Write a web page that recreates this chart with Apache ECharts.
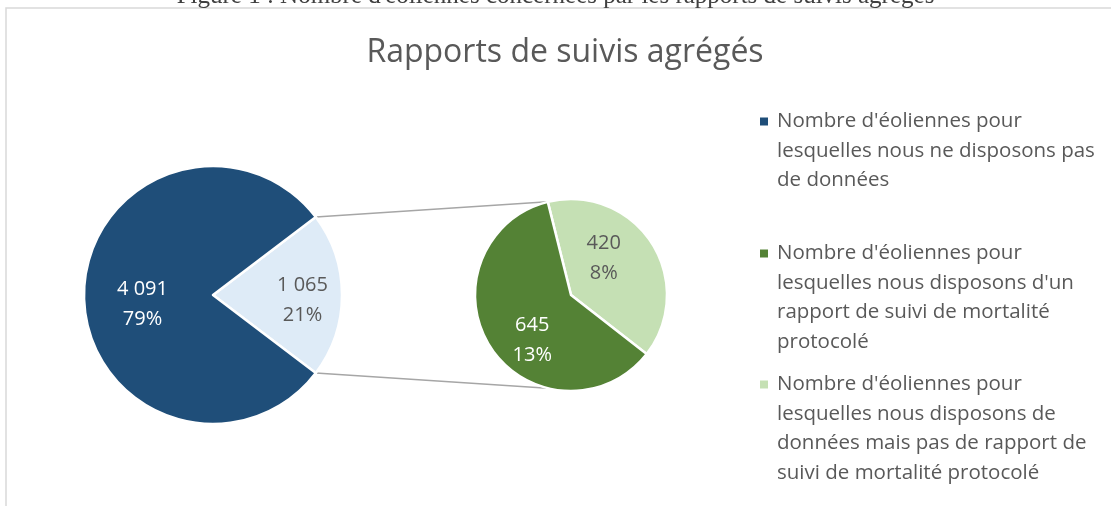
<!DOCTYPE html>
<html>
<head>
<meta charset="utf-8">
<script src="https://cdn.jsdelivr.net/npm/echarts@6/dist/echarts.min.js"></script>
<style>
html, body { margin: 0; padding: 0; background: #fff; }
#main { width: 1111px; height: 506px; }
</style>
</head>
<body>
<div id="main"></div>
<script>
// categories and values
var names = [
    "Nombre d'éoliennes pour lesquelles nous ne disposons pas de données",
    "Nombre d'éoliennes pour lesquelles nous disposons d'un rapport de suivi de mortalité protocolé",
    "Nombre d'éoliennes pour lesquelles nous disposons de données mais pas de rapport de suivi de mortalité protocolé"
];
var legendLines = [
    ["Nombre d'éoliennes pour", "lesquelles nous ne disposons pas", "de données"],
    ["Nombre d'éoliennes pour", "lesquelles nous disposons d'un", "rapport de suivi de mortalité", "protocolé"],
    ["Nombre d'éoliennes pour", "lesquelles nous disposons de", "données mais pas de rapport de", "suivi de mortalité protocolé"]
];
var noData = 4091;
var withReport = 645;
var withoutReport = 420;

var colors = ['#1f4e79', '#548235', '#c5e0b4'];
var groupColor = '#deebf7';
var font = 'Open Sans';

var total = noData + withReport + withoutReport;
var group = withReport + withoutReport;

function fmt(n) {
    return String(n).replace(/\B(?=(\d{3})+(?!\d))/g, ' ');
}
function labelText(p) {
    return fmt(p.value) + '\n' + Math.round(p.value / total * 100) + '%';
}

// pie geometry
var c1 = [213, 295], r1 = 129;
var c2 = [571, 295], r2 = 96;
var half = 360 * group / total / 2;
var start2 = 104;

var a1 = half * Math.PI / 180;
var a2 = start2 * Math.PI / 180;
var p1top = [c1[0] + r1 * Math.cos(a1), c1[1] - r1 * Math.sin(a1)];
var p1bot = [c1[0] + r1 * Math.cos(a1), c1[1] + r1 * Math.sin(a1)];
var p2top = [c2[0] + r2 * Math.cos(a2), c2[1] - r2 * Math.sin(a2)];
var p2bot = [c2[0] + r2 * Math.cos(a2), c2[1] + r2 * Math.sin(a2)];

var rich = {
    g: { width: 9 },
    s: { width: 17 },
    t: { fontSize: 20.5, color: '#595959', lineHeight: 29.5, fontFamily: font }
};
colors.forEach(function (c, i) {
    rich['m' + i] = { width: 8, height: 8, backgroundColor: c, verticalAlign: 'middle' };
});

var legendTops = [111, 243, 374];
var legends = names.map(function (n, i) {
    return {
        data: [n],
        orient: 'vertical',
        left: 755,
        top: legendTops[i],
        padding: 0,
        icon: 'none',
        itemWidth: 0,
        itemHeight: 0,
        selectedMode: false,
        formatter: function () {
            return legendLines[i].map(function (l, j) {
                return (j === 0 ? '{m' + i + '|}{g|}' : '{s|}') + '{t|' + l + '}';
            }).join('\n');
        },
        textStyle: { rich: rich }
    };
});

var option = {
    animation: false,
    title: [
        {
            text: 'Figure 1 : Nombre d\'éoliennes concernées par les rapports de suivis agrégés',
            left: 'center',
            top: -23,
            textStyle: { fontFamily: 'Liberation Serif', fontSize: 25, fontWeight: 'normal', color: '#404040', lineHeight: 28 }
        },
        {
            text: 'Rapports de suivis agrégés',
            left: 560,
            textAlign: 'center',
            top: 32,
            textStyle: { fontFamily: font, fontSize: 32, fontWeight: 'normal', color: '#595959' }
        }
    ],
    legend: legends,
    graphic: [
        {
            type: 'rect',
            shape: { x: 6, y: 8, width: 1200, height: 600 },
            style: { fill: 'none', stroke: '#d9d9d9', lineWidth: 1.5 },
            silent: true
        },
        {
            type: 'line',
            shape: { x1: p1top[0], y1: p1top[1], x2: p2top[0], y2: p2top[1] },
            style: { stroke: '#a6a6a6', lineWidth: 1.5 },
            silent: true
        },
        {
            type: 'line',
            shape: { x1: p1bot[0], y1: p1bot[1], x2: p2bot[0], y2: p2bot[1] },
            style: { stroke: '#a6a6a6', lineWidth: 1.5 },
            silent: true
        }
    ],
    series: [
        {
            type: 'pie',
            center: c1,
            radius: r1,
            startAngle: half,
            clockwise: true,
            silent: true,
            itemStyle: { borderColor: '#fff', borderWidth: 2.5 },
            label: {
                position: 'inside',
                formatter: labelText,
                fontFamily: font,
                fontSize: 20,
                lineHeight: 30
            },
            data: [
                { name: 'Autres', value: group, itemStyle: { color: groupColor }, label: { color: '#595959', offset: [22, 5] } },
                { name: names[0], value: noData, itemStyle: { color: colors[0] }, label: { color: '#fff', offset: [-3, 9] } }
            ]
        },
        {
            type: 'pie',
            center: c2,
            radius: r2,
            startAngle: start2,
            clockwise: true,
            silent: true,
            itemStyle: { borderColor: '#fff', borderWidth: 2.5 },
            label: {
                position: 'inside',
                formatter: labelText,
                fontFamily: font,
                fontSize: 20,
                lineHeight: 30
            },
            data: [
                { name: names[2], value: withoutReport, itemStyle: { color: colors[2] }, label: { color: '#595959', offset: [-10, -9] } },
                { name: names[1], value: withReport, itemStyle: { color: colors[1] }, label: { color: '#fff', offset: [4, 18] } }
            ]
        }
    ]
};

var myChart = echarts.init(document.getElementById('main'));
myChart.setOption(option);
</script>
</body>
</html>
